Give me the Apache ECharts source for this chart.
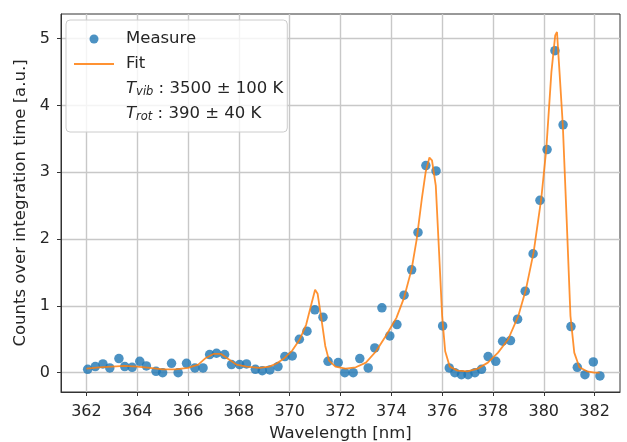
<!DOCTYPE html>
<html>
<head>
<meta charset="utf-8">
<script src="https://cdn.jsdelivr.net/npm/echarts@6/dist/echarts.min.js"></script>
<style>html,body{margin:0;padding:0;background:#fff}#c{width:627px;height:442px}</style>
</head>
<body>
<div id="c"></div>
<script>
const xTicks = [362, 364, 366, 368, 370, 372, 374, 376, 378, 380, 382];
const yTicks = [0, 1, 2, 3, 4, 5];

const measureX = [362.05, 362.35, 362.65, 362.92, 363.28, 363.51, 363.8, 364.1, 364.36, 364.74,
  365.0, 365.35, 365.61, 365.94, 366.27, 366.59, 366.85, 367.12, 367.44, 367.71,
  368.03, 368.3, 368.65, 368.92, 369.22, 369.54, 369.81, 370.1, 370.38, 370.68,
  370.99, 371.31, 371.51, 371.91, 372.17, 372.5, 372.76, 373.09, 373.35, 373.63,
  373.94, 374.22, 374.5, 374.8, 375.05, 375.36, 375.76, 376.02, 376.28, 376.5,
  376.76, 377.02, 377.29, 377.55, 377.81, 378.11, 378.38, 378.69, 378.97, 379.27,
  379.58, 379.85, 380.13, 380.44, 380.76, 381.07, 381.32, 381.62, 381.95, 382.21];
const measureY = [0.05, 0.09, 0.13, 0.07, 0.21, 0.09, 0.08, 0.17, 0.10, 0.02,
  0.0, 0.14, 0.0, 0.14, 0.07, 0.07, 0.27, 0.29, 0.27, 0.12,
  0.12, 0.13, 0.05, 0.03, 0.04, 0.09, 0.24, 0.25, 0.5, 0.62,
  0.94, 0.83, 0.17, 0.15, 0.0, 0.0, 0.21, 0.07, 0.37, 0.97,
  0.55, 0.72, 1.16, 1.54, 2.1, 3.1, 3.02, 0.7, 0.07, 0.0,
  -0.03, -0.03, 0.0, 0.05, 0.24, 0.17, 0.47, 0.48, 0.8, 1.22,
  1.78, 2.58, 3.34, 4.82, 3.71, 0.69, 0.08, -0.03, 0.16, -0.05];

const fitX = [362.0, 362.5, 363.0, 363.5, 364.0, 364.5, 365.0, 365.5, 366.0, 366.4,
  366.7, 367.0, 367.3, 367.6, 367.9, 368.3, 368.8, 369.2, 369.5, 369.8,
  370.1, 370.4, 370.65, 370.85, 371.0, 371.1, 371.25, 371.4, 371.55, 371.8,
  372.2, 372.6, 373.0, 373.4, 373.8, 374.2, 374.5, 374.8, 375.0, 375.2,
  375.35, 375.5, 375.6, 375.75, 375.88, 376.0, 376.12, 376.3, 376.6, 377.0,
  377.4, 377.8, 378.2, 378.6, 379.0, 379.3, 379.6, 379.9, 380.1, 380.3,
  380.45, 380.52, 380.62, 380.75, 380.9, 381.05, 381.2, 381.4, 381.7, 382.0, 382.2];
const fitY = [0.06, 0.08, 0.09, 0.10, 0.09, 0.07, 0.05, 0.05, 0.07, 0.12,
  0.22, 0.28, 0.28, 0.20, 0.12, 0.09, 0.07, 0.09, 0.14, 0.22,
  0.33, 0.50, 0.72, 1.02, 1.24, 1.18, 0.80, 0.40, 0.18, 0.09,
  0.06, 0.08, 0.15, 0.32, 0.56, 0.82, 1.12, 1.55, 2.0, 2.6,
  3.0, 3.22, 3.18, 2.8, 1.8, 0.85, 0.32, 0.09, 0.03, 0.02,
  0.06, 0.15, 0.30, 0.50, 0.85, 1.25, 1.8, 2.6, 3.35, 4.5,
  5.05, 5.1, 4.5, 3.7, 2.3, 0.85, 0.30, 0.08, 0.02, 0.0, 0.0];

const FONT = 'DejaVu Sans';
const TXT = '#262626';
const chart = echarts.init(document.getElementById('c'), null, {renderer: 'canvas'});
const axisCommon = {
  axisLine: {show: true, onZero: false, lineStyle: {color: '#333', width: 1}},
  axisTick: {show: true, length: 4, lineStyle: {color: '#333', width: 1}},
  splitLine: {show: true, lineStyle: {color: '#c8c8c8', width: 1.4}},
  nameLocation: 'middle',
  nameTextStyle: {fontFamily: FONT, fontSize: 16.5, color: TXT}
};
chart.setOption({
  animation: false,
  backgroundColor: '#fff',
  grid: {left: 61, top: 14, right: 7, bottom: 50, show: true, borderColor: '#333', borderWidth: 1,
    containLabel: false, outerBoundsMode: 'none'},
  xAxis: Object.assign({}, axisCommon, {
    type: 'value', min: 361, max: 383,
    name: 'Wavelength [nm]', nameGap: 32,
    axisTick: Object.assign({}, axisCommon.axisTick, {customValues: xTicks}),
    axisLabel: {customValues: xTicks, margin: 12, fontFamily: FONT, fontSize: 16, color: TXT}
  }),
  yAxis: Object.assign({}, axisCommon, {
    type: 'value', min: -0.29, max: 5.37,
    name: 'Counts over integration time [a.u.]', nameGap: 30,
    axisTick: Object.assign({}, axisCommon.axisTick, {customValues: yTicks}),
    axisLabel: {customValues: yTicks, margin: 11, fontFamily: FONT, fontSize: 16, color: TXT}
  }),
  legend: {
    orient: 'vertical', left: 66, top: 20,
    itemWidth: 40, itemHeight: 9, itemGap: 7,
    padding: [10, 4, 9, 7],
    backgroundColor: 'rgba(255,255,255,0.8)', borderColor: '#cccccc', borderWidth: 1, borderRadius: 4,
    textStyle: {fontFamily: FONT, fontSize: 16.5, color: TXT, lineHeight: 18, padding: [0, 0, 0, 7],
      rich: {
        it: {fontFamily: FONT, fontSize: 16.5, fontStyle: 'italic', color: TXT, lineHeight: 18, verticalAlign: 'middle'},
        sub: {fontFamily: FONT, fontSize: 11.5, fontStyle: 'italic', color: TXT, lineHeight: 11, verticalAlign: 'bottom'},
        n: {fontFamily: FONT, fontSize: 16.5, color: TXT, lineHeight: 18, verticalAlign: 'middle'}
      }},
    data: [
      {name: 'Measure', icon: 'circle'},
      {name: 'Fit', itemStyle: {opacity: 0}},
      {name: 'Tvib'},
      {name: 'Trot'}
    ],
    formatter: function (name) {
      if (name === 'Tvib') return '{it|T}{sub|vib}{n| : 3500 ± 100 K}';
      if (name === 'Trot') return '{it|T}{sub|rot}{n| : 390 ± 40 K}';
      return name;
    }
  },
  series: [
    {
      name: 'Measure', type: 'scatter', symbol: 'circle', symbolSize: 9.5,
      itemStyle: {color: '#1f77b4'}, z: 2,
      data: measureX.map((x, i) => [x, measureY[i]])
    },
    {
      name: 'Fit', type: 'line', symbol: 'none', showSymbol: false, z: 3,
      lineStyle: {color: '#ff7f0e', width: 1.8, opacity: 0.85},
      itemStyle: {color: '#ff7f0e'},
      data: fitX.map((x, i) => [x, fitY[i]])
    },
    {name: 'Tvib', type: 'line', symbol: 'none', data: [], lineStyle: {opacity: 0}, itemStyle: {opacity: 0}},
    {name: 'Trot', type: 'line', symbol: 'none', data: [], lineStyle: {opacity: 0}, itemStyle: {opacity: 0}}
  ]
});
</script>
</body>
</html>
